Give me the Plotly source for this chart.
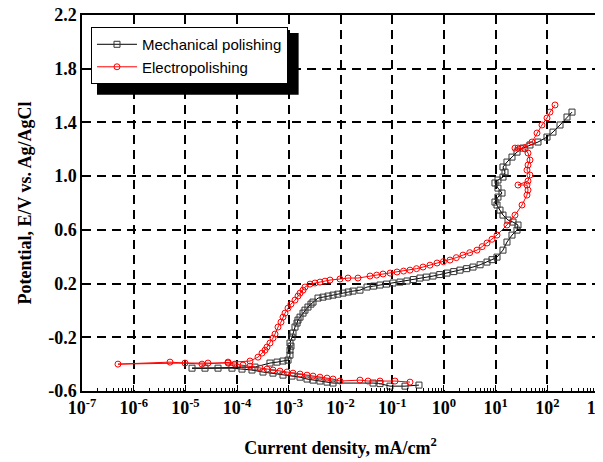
import numpy as np
import plotly.graph_objects as go

# ---- data (log10 of current density in mA/cm^2, potential in V vs Ag/AgCl) ----
mp_log_i = [-0.482, -0.752, -1.043, -1.236, -1.371, -2.145, -2.261, -2.397, -2.532, -2.648,
            -2.783, -2.938, -3.112, -3.306, -3.499, -3.712, -3.905, -4.099, -4.369, -4.872,
            -4.621, -3.654, -3.364, -3.228, -3.112, -3.015, -2.977, -2.977, -2.958, -2.977,
            -2.938, -2.919, -2.880, -2.841, -2.822, -2.783, -2.725, -2.687, -2.629, -2.571,
            -2.532, -2.435, -2.338, -2.240, -2.145, -2.050, -1.952, -1.850, -1.758, -1.623,
            -1.487, -1.360, -1.236, -1.110, -0.985, -0.850, -0.714, -0.590, -0.462, -0.340,
            -0.211, -0.080, 0.060, 0.190, 0.311, 0.440, 0.563, 0.700, 0.834, 0.930,
            1.027, 1.143, 1.220,
            1.317, 1.414, 1.433, 1.337, 1.240, 1.143, 1.085, 1.027, 0.988, 1.046,
            1.124, 1.046, 0.988, 1.046, 1.143, 1.182, 1.143, 1.220, 1.317, 1.414,
            1.530, 1.665, 1.820, 1.994, 2.110, 2.246, 2.381, 2.478]
mp_E = [-0.556, -0.564, -0.564, -0.545, -0.541, -0.541, -0.534, -0.526, -0.519, -0.511,
        -0.497, -0.489, -0.482, -0.467, -0.459, -0.444, -0.437, -0.430, -0.430, -0.430,
        -0.430, -0.422, -0.392, -0.385, -0.377, -0.370, -0.333, -0.296, -0.266, -0.243,
        -0.199, -0.169, -0.124, -0.094, -0.072, -0.050, -0.020, 0.002, 0.025, 0.047,
        0.062, 0.092, 0.099, 0.107, 0.114, 0.121, 0.129, 0.137, 0.144, 0.151,
        0.174, 0.181, 0.189, 0.196, 0.204, 0.211, 0.219, 0.230, 0.241, 0.248,
        0.256, 0.267, 0.278, 0.289, 0.300, 0.311, 0.323, 0.340, 0.360, 0.378,
        0.397, 0.449, 0.509,
        0.561, 0.598, 0.636, 0.658, 0.673, 0.710, 0.747, 0.785, 0.807, 0.844,
        0.874, 0.911, 0.949, 0.971, 0.993, 1.030, 1.068, 1.105, 1.142, 1.179,
        1.209, 1.232, 1.254, 1.291, 1.328, 1.381, 1.440, 1.477]

ep_log_i = [-0.656, -0.946, -1.236, -1.468, -1.623, -2.010, -2.145, -2.261, -2.397, -2.532,
            -2.648, -2.783, -2.919, -3.035, -3.170, -3.306, -3.422, -3.557, -3.750, -3.886,
            -4.041, -4.176, -4.563, -5.008, -6.304, -5.298, -4.679, -4.176, -3.750, -3.596,
            -3.518, -3.460, -3.422, -3.364, -3.306, -3.267, -3.209, -3.151, -3.112, -3.073,
            -3.015, -2.958, -2.880, -2.822, -2.783, -2.725, -2.687, -2.590, -2.493, -2.397,
            -2.300, -2.203, -2.010, -1.855, -1.662, -1.429, -1.300, -1.178, -1.040, -0.907,
            -0.780, -0.656, -0.530, -0.404, -0.270, -0.133, -0.010, 0.118, 0.240, 0.369,
            0.500, 0.640, 0.740, 0.834, 0.930, 1.027, 1.220, 1.375, 1.511, 1.607, 1.627,
            1.607, 1.433, 1.627, 1.665, 1.607, 1.627, 1.665, 1.627, 1.569, 1.433,
            1.375, 1.704, 1.801, 1.897, 1.994, 2.052, 2.149]
ep_E = [-0.534, -0.526, -0.526, -0.526, -0.519, -0.526, -0.511, -0.504, -0.497, -0.489,
        -0.482, -0.474, -0.467, -0.459, -0.452, -0.444, -0.437, -0.430, -0.415, -0.407,
        -0.400, -0.392, -0.392, -0.392, -0.400, -0.385, -0.400, -0.385, -0.377, -0.348,
        -0.318, -0.296, -0.273, -0.243, -0.206, -0.176, -0.124, -0.087, -0.050, -0.020,
        0.017, 0.047, 0.077, 0.107, 0.129, 0.151, 0.174, 0.196, 0.204, 0.211,
        0.218, 0.226, 0.234, 0.241, 0.241, 0.256, 0.263, 0.271, 0.278, 0.286,
        0.293, 0.300, 0.311, 0.323, 0.337, 0.353, 0.363, 0.375, 0.393, 0.412,
        0.430, 0.449, 0.475, 0.502, 0.530, 0.561, 0.636, 0.710, 0.785, 0.859, 0.896,
        0.934, 0.934, 0.964, 1.008, 1.045, 1.083, 1.120, 1.172, 1.202, 1.209,
        1.209, 1.254, 1.321, 1.381, 1.433, 1.477, 1.530]

x_tick_exp = [-7, -6, -5, -4, -3, -2, -1, 0, 1, 2, 3]
y_ticks = [-0.6, -0.2, 0.2, 0.6, 1.0, 1.4, 1.8, 2.2]

series_names = ["Mechanical polishing", "Electropolishing"]

# ---- figure ----
fig = go.Figure()
fig.add_trace(go.Scatter(
    x=10 ** np.array(mp_log_i), y=mp_E, name=series_names[0], mode="lines+markers",
    line=dict(color="#000000", width=1),
    marker=dict(symbol="square-open", size=6, color="#333333", line=dict(width=1)),
))
fig.add_trace(go.Scatter(
    x=10 ** np.array(ep_log_i), y=ep_E, name=series_names[1], mode="lines+markers",
    line=dict(color="#ff0000", width=1),
    marker=dict(symbol="circle-open", size=6, color="#ff0000", line=dict(width=1)),
))

tick_font = dict(family="Liberation Serif", size=18, color="black")
fig.update_xaxes(
    type="log", range=[-7, 3], automargin=False, ticklabeloverflow="allow",
    tickvals=[10.0 ** e for e in x_tick_exp],
    ticktext=["<b>10<sup>%d</sup></b>" % e for e in x_tick_exp],
    ticks="inside", ticklen=6, tickwidth=1.2, tickcolor="black",
    minor=dict(ticks="inside", ticklen=3, tickwidth=1, tickcolor="black", dtick="D1", showgrid=False),
    showline=True, linewidth=1.5, linecolor="black", mirror=True,
    showgrid=True, gridcolor="black", gridwidth=1.5, griddash="9px,6px",
    zeroline=False, tickfont=tick_font,
    title=dict(text="<b>Current density, mA/cm<sup>2</sup></b>",
               font=dict(family="Liberation Serif", size=18, color="black"), standoff=24),
)
fig.update_yaxes(
    range=[-0.6001, 2.2001], automargin=False, ticklabeloverflow="allow",
    tickvals=y_ticks, ticktext=["<b>%s</b>" % ("%.1f" % v) for v in y_ticks],
    ticks="inside", ticklen=6, tickwidth=1.2, tickcolor="black",
    showline=True, linewidth=1.5, linecolor="black", mirror=True,
    showgrid=True, gridcolor="black", gridwidth=1.5, griddash="9px,6px",
    zeroline=False, tickfont=tick_font,
    title=dict(text="<b>Potential, E/V vs. Ag/AgCl</b>",
               font=dict(family="Liberation Serif", size=18, color="black"), standoff=12),
)

# page has an 8px body margin, so the figure is 595x454 to fill a 603x462 window
fig.update_layout(
    width=595, height=454,
    margin=dict(l=74, r=4, t=7, b=71, autoexpand=False),
    paper_bgcolor="white", plot_bgcolor="white",
    showlegend=True,
    legend=dict(x=0.0174, y=0.968, xanchor="left", yanchor="top",
                bgcolor="white", bordercolor="black", borderwidth=1,
                font=dict(family="Liberation Sans", size=15, color="black"),
                tracegroupgap=0, itemwidth=40),
    shapes=[dict(type="rect", xref="paper", yref="paper",
                 x0=0.029, x1=0.419, y0=0.788, y1=0.952,
                 fillcolor="black", line=dict(width=0), layer="above")],
)

fig.write_html("out.html")
